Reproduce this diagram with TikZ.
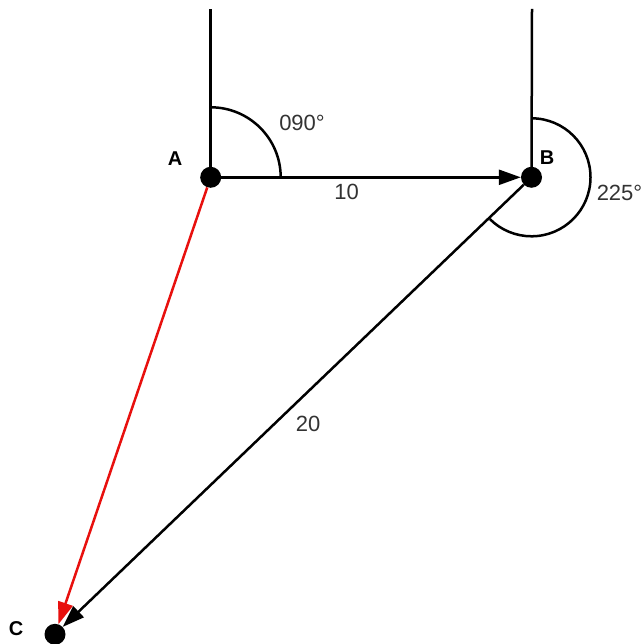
\documentclass[tikz,border=0pt]{standalone}
\usepackage{fontspec}
\setmainfont{Liberation Sans}
\usetikzlibrary{arrows.meta}
\definecolor{txtgray}{HTML}{333333}
\definecolor{bearred}{HTML}{E8100E}
\begin{document}
\begin{tikzpicture}[x=1bp,y=1bp,
  dot/.style={circle,fill=black,inner sep=0pt,minimum size=21bp},
  leg/.style={line width=2.5bp,-{Triangle[length=22bp,width=15bp]}},
  northline/.style={line width=2.5bp},
  anglearc/.style={line width=2.5bp},
  ptlabel/.style={font=\fontsize{20bp}{24bp}\selectfont\bfseries,text=black},
  numlabel/.style={font=\fontsize{22bp}{26bp}\selectfont,text=txtgray}]
\useasboundingbox (0,0) rectangle (643,644);
% points
\node[dot] (A) at (210.7,466.7) {};
\node[dot] (B) at (531.5,466.7) {};
\node[dot] (C) at (55,9.7) {};
\coordinate (NA) at (210.7,635);
\coordinate (NB) at (532,635);
% north lines
\draw[northline] (A.center) -- (NA);
\draw[northline] (B.center) -- (NB);
% angle arcs
\draw[anglearc] ([yshift=70bp]A.center) arc[start angle=90,end angle=0,radius=70bp];
\draw[anglearc] ([yshift=59bp]B.center) arc[start angle=90,end angle=-135,radius=59bp];
% legs
\draw[leg] (A) -- (B);
\draw[leg] (B) -- (C);
\draw[leg,bearred] (A) -- (C);
% labels
\node[ptlabel] (lA) at (175,485) {A};
\node[ptlabel] (lB) at (547,486) {B};
\node[ptlabel] (lC) at (16,15.5) {C};
\node[numlabel] (a1) at (302,520.7) {090°};
\node[numlabel] (d1) at (346.7,452.3) {10};
\node[numlabel] (a2) at (619.5,450.7) {225°};
\node[numlabel] (d2) at (308,220) {20};
\end{tikzpicture}
\end{document}
